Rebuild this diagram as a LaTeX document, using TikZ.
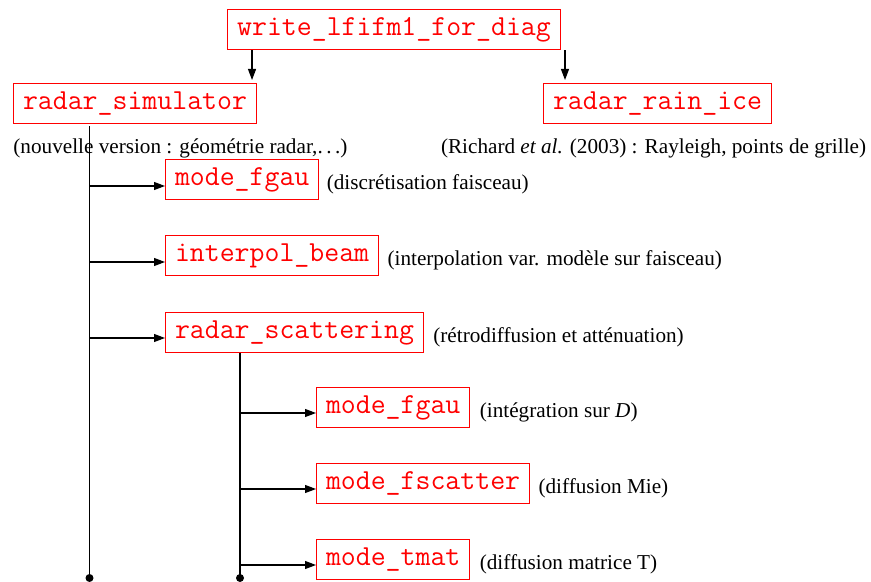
\documentclass[tikz,border=0pt]{standalone}
\usepackage{fontspec}
\setmainfont{Liberation Serif}
\usetikzlibrary{arrows.meta}
\begin{document}
\begin{tikzpicture}[x=0.5pt,y=-0.5pt,
  fbox/.style={draw=red, text=red, line width=0.5pt,
    font=\fontsize{14.5pt}{16pt}\ttfamily, inner xsep=4.75pt, inner ysep=0pt,
    minimum height=20pt, text height=8.8pt, text depth=2.8pt},
  captxt/.style={font=\fontsize{10.6pt}{12pt}\selectfont, inner sep=0pt},
  arr/.style={-{Triangle[length=5.5pt,width=4pt]}, line width=0.55pt},
  vline/.style={line width=0.6pt}]
\useasboundingbox (0,0) rectangle (871,582);
\coordinate (bot) at (0,578);

% top level
\node[fbox] (top) at (394,30) {write\_lfifm1\_for\_diag};
\node[fbox, anchor=west] (rsim) at (13,103.5) {radar\_simulator};
\node[fbox, anchor=west] (rrain) at (543,103.5) {radar\_rain\_ice};

\coordinate (a1) at ([xshift=-2.5pt]rsim.north east);
\coordinate (a2) at ([xshift=11pt]rrain.north west);
\draw[arr, shorten >=1.5pt] (a1 |- top.south) -- (a1);
\draw[arr, shorten >=1.5pt] (a2 |- top.south) -- (a2);

\node[captxt, anchor=base west] (csim) at ([yshift=-14.75pt]rsim.south west)
  {(nouvelle version : géométrie radar,.\,.\,.)};
\node[captxt, anchor=base] (crain) at ([xshift=-2pt,yshift=-14.75pt]rrain.south)
  {(Richard \textit{et al.} (2003) : Rayleigh, points de grille)};

% first column
\node[fbox, anchor=west] (b1) at (165,180) {mode\_fgau};
\node[fbox, anchor=west] (b2) at (165,256) {interpol\_beam};
\node[fbox, anchor=west] (b3) at (165,332) {radar\_scattering};

\coordinate (v1top) at ([xshift=38.25pt,yshift=-1.25pt]rsim.south west);
\draw[vline] (v1top) -- (v1top |- bot);
\fill (v1top |- bot) circle (2pt);
\foreach \b in {b1,b2,b3}
  \draw[arr] ([yshift=-3pt]\b.west -| v1top) -- ([yshift=-3pt]\b.west);

\node[captxt, anchor=base west] (c1) at ([xshift=3.5pt,yshift=-5pt]b1.east) {(discrétisation faisceau)};
\node[captxt, anchor=base west] (c2) at ([xshift=4pt,yshift=-5pt]b2.east) {(interpolation var. modèle sur faisceau)};
\node[captxt, anchor=base west] (c3) at ([xshift=4.5pt,yshift=-5pt]b3.east) {(rétrodiffusion et atténuation)};

% second column
\node[fbox, anchor=west] (d1) at (316,407) {mode\_fgau};
\node[fbox, anchor=west] (d2) at (316,483) {mode\_fscatter};
\node[fbox, anchor=west] (d3) at (316,559) {mode\_tmat};

\coordinate (v2top) at ([xshift=37.5pt]b3.south west);
\draw[vline] (v2top) -- (v2top |- bot);
\fill (v2top |- bot) circle (2pt);
\foreach \b in {d1,d2,d3}
  \draw[arr] ([yshift=-3pt]\b.west -| v2top) -- ([yshift=-3pt]\b.west);

\node[captxt, anchor=base west] (e1) at ([xshift=4.5pt,yshift=-5pt]d1.east) {(intégration sur \textit{D})};
\node[captxt, anchor=base west] (e2) at ([xshift=4pt,yshift=-5pt]d2.east) {(diffusion Mie)};
\node[captxt, anchor=base west] (e3) at ([xshift=4.5pt,yshift=-5pt]d3.east) {(diffusion matrice T)};
\end{tikzpicture}
\end{document}
